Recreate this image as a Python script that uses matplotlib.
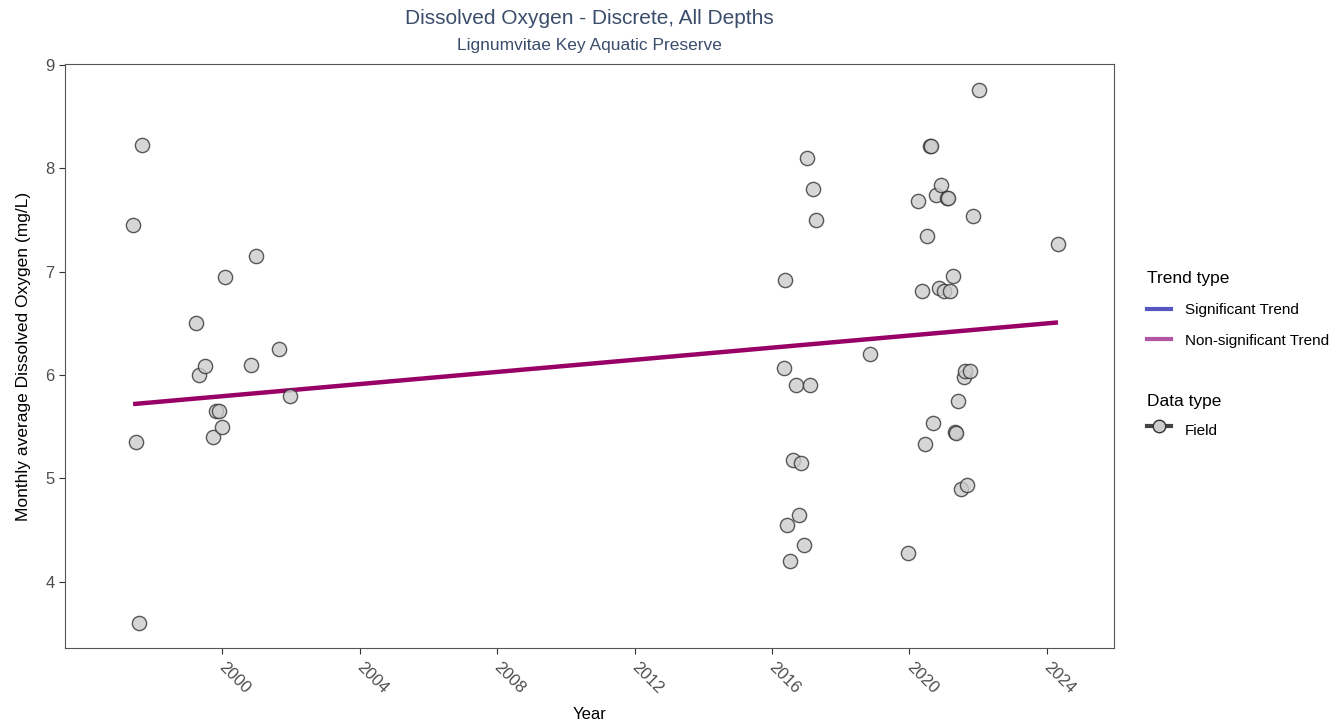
import matplotlib.pyplot as plt
from matplotlib.lines import Line2D
from matplotlib.transforms import ScaledTranslation

plt.rcParams['font.family'] = ['Liberation Sans', 'DejaVu Sans']

# Monthly average dissolved oxygen (decimal year, mg/L)
anos = [1997.41, 1997.67, 1997.50, 1997.59, 1999.24, 1999.33, 1999.51, 1999.74,
        1999.83, 1999.91, 2000.00, 2000.09, 2000.84, 2000.99, 2001.66, 2001.98,
        2016.35, 2016.38, 2016.44, 2016.52, 2016.61, 2016.70, 2016.79, 2016.84,
        2016.93, 2017.02, 2017.11, 2017.19, 2017.28, 2018.85, 2019.96, 2020.25,
        2020.36, 2020.45, 2020.51, 2020.60, 2020.62, 2020.68, 2020.77, 2020.86,
        2020.92, 2021.00, 2021.09, 2021.12, 2021.18, 2021.26, 2021.32, 2021.35,
        2021.41, 2021.50, 2021.59, 2021.62, 2021.67, 2021.76, 2021.85, 2022.02,
        2024.32]
oxigenio = [7.45, 8.23, 5.35, 3.60, 6.50, 6.00, 6.09, 5.40,
            5.65, 5.65, 5.50, 6.95, 6.10, 7.15, 6.25, 5.80,
            6.07, 6.92, 4.55, 4.20, 5.18, 5.90, 4.65, 5.15,
            4.36, 8.10, 5.90, 7.80, 7.50, 6.20, 4.28, 7.68,
            6.81, 5.33, 7.35, 8.22, 8.22, 5.54, 7.74, 6.84,
            7.84, 6.81, 7.71, 7.71, 6.81, 6.96, 5.45, 5.44,
            5.75, 4.90, 5.98, 6.04, 4.94, 6.04, 7.54, 8.76,
            7.27]

# Trend line (non-significant)
tendencia_x = [1997.41, 2024.32]
tendencia_y = [5.72, 6.51]

anos_ticks = [2000, 2004, 2008, 2012, 2016, 2020, 2024]
oxi_ticks = [4, 5, 6, 7, 8, 9]

fig = plt.figure(figsize=(13.41, 7.25), dpi=100)
ax = fig.add_axes([0.0485, 0.1062, 0.7822, 0.8055])

ax.plot(tendencia_x, tendencia_y, color="#990066", linewidth=3.2, zorder=2,
        solid_capstyle="butt")
ax.scatter(anos, oxigenio, s=105, facecolor="#cccccc", edgecolor="#333333",
           linewidth=1.0, alpha=0.8, zorder=3)

ax.set_xlim(1995.43, 2025.95)
ax.set_ylim(3.36, 9.01)
ax.set_xticks(anos_ticks)
ax.set_xticklabels([str(a) for a in anos_ticks], rotation=-45, ha="left",
                   va="top", rotation_mode="anchor")
ax.set_yticks(oxi_ticks)

ax.tick_params(axis="both", colors="#333333", labelcolor="#4d4d4d",
               labelsize=12, length=4, width=0.8)
ax.tick_params(axis="x", pad=4)
# empurra os rotulos do eixo x um pouco para a direita
desloc = ScaledTranslation(5 / 100, 0, fig.dpi_scale_trans)
for lbl in ax.get_xticklabels():
    lbl.set_transform(lbl.get_transform() + desloc)
for lado in ax.spines.values():
    lado.set_color("#555555")
    lado.set_linewidth(0.8)

ax.set_xlabel("Year", fontsize=12, labelpad=8)
ax.set_ylabel("Monthly average Dissolved Oxygen (mg/L)", fontsize=12.5, labelpad=10)

fig.text(0.4396, 0.975, "Dissolved Oxygen - Discrete, All Depths",
         ha="center", va="center", fontsize=15, color="#3b4d6b")
fig.text(0.4396, 0.937, "Lignumvitae Key Aquatic Preserve",
         ha="center", va="center", fontsize=12.5, color="#3b4d6b")

# Legends
h_trend = [Line2D([], [], color="#4444bb", linewidth=3, alpha=0.9),
           Line2D([], [], color="#aa4499", linewidth=3, alpha=0.9)]
leg1 = fig.legend(h_trend, ["Significant Trend", "Non-significant Trend"],
                  title="Trend type", loc="upper left",
                  bbox_to_anchor=(0.845, 0.645), frameon=False, fontsize=11,
                  title_fontsize=12.5, alignment="left", handlelength=1.6,
                  labelspacing=1.1, handletextpad=0.9)

h_data = [Line2D([], [], color="#444444", linewidth=3, marker="o",
                 markersize=9, markerfacecolor="#cccccc",
                 markeredgecolor="#333333")]
leg2 = fig.legend(h_data, ["Field"], title="Data type", loc="upper left",
                  bbox_to_anchor=(0.845, 0.475), frameon=False, fontsize=11,
                  title_fontsize=12.5, alignment="left", handlelength=1.6,
                  handleheight=2.2, handletextpad=0.9)

fig.savefig("out.png", dpi=100)
